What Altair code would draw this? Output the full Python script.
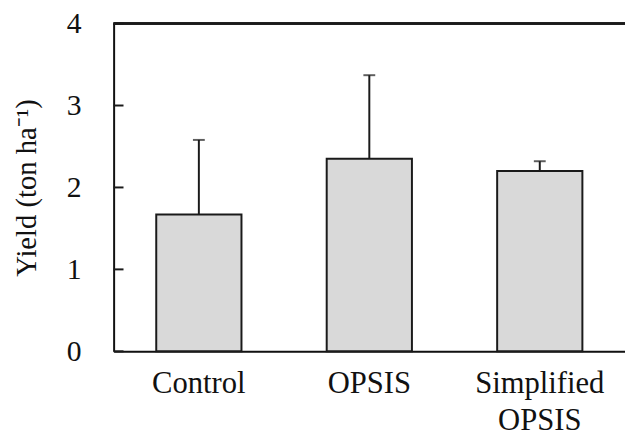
import altair as alt
import pandas as pd

categories = ["Control", "OPSIS", "Simplified OPSIS"]
means = [1.67, 2.35, 2.20]
errors = [0.91, 1.02, 0.12]
y_ticks = [0, 1, 2, 3, 4]

df = pd.DataFrame({"cat": categories, "mean": means, "err": errors})
df["top"] = df["mean"] + df["err"]
ticks_df = pd.DataFrame({"v": y_ticks})

W, H = 518, 332
FONT = "Liberation Serif"

x_enc = alt.X(
    "cat:N",
    sort=categories,
    scale=alt.Scale(paddingInner=0.5, paddingOuter=0.25),
    axis=alt.Axis(
        title=None,
        labelAngle=0,
        ticks=False,
        domain=True,
        domainColor="#111111",
        domainWidth=2,
        labelFont=FONT,
        labelFontSize=31,
        labelColor="#111111",
        labelPadding=18,
        labelLineHeight=37,
        labelExpr="datum.label == 'Simplified OPSIS' ? ['Simplified', 'OPSIS'] : datum.label",
    ),
)
y_scale = alt.Scale(domain=[0, 4], nice=False)
y_axis = alt.Axis(
    title="Yield (ton ha⁻¹)",
    values=y_ticks,
    format="d",
    ticks=False,
    grid=False,
    domain=True,
    domainColor="#111111",
    domainWidth=2,
    labelFont=FONT,
    labelFontSize=30,
    labelColor="#111111",
    labelPadding=33,
    titleFont=FONT,
    titleFontSize=29,
    titleFontWeight="normal",
    titleColor="#111111",
    titleAngle=270,
    titleX=-88,
    titleY=H / 2,
    titleAlign="center",
    titleBaseline="middle",
)

base = alt.Chart(df)

bars = base.mark_bar(fill="#d9d9d9", stroke="#1a1a1a", strokeWidth=2).encode(
    x=x_enc,
    y=alt.Y("mean:Q", scale=y_scale, axis=y_axis),
)
err_rule = base.mark_rule(color="#1a1a1a", strokeWidth=2).encode(
    x=alt.X("cat:N", sort=categories),
    y="mean:Q",
    y2="top:Q",
)
caps = base.mark_tick(color="#1a1a1a", size=12, thickness=2).encode(
    x=alt.X("cat:N", sort=categories),
    y="top:Q",
)
inner_ticks = alt.Chart(ticks_df).mark_rule(color="#1a1a1a", strokeWidth=2).encode(
    y=alt.Y("v:Q"),
    x=alt.value(0),
    x2=alt.value(10),
)
top_line = alt.Chart(ticks_df).mark_rule(color="#1a1a1a", strokeWidth=2).encode(
    y=alt.datum(4),
    x=alt.value(0),
    x2=alt.value(W),
)

chart = alt.layer(bars, err_rule, caps, inner_ticks, top_line).properties(
    width=W,
    height=H,
    autosize=alt.AutoSizeParams(type="none"),
    padding={"left": 107, "top": 13, "right": 0, "bottom": 83},
).configure_view(stroke=None).configure(background="white", font=FONT)

chart.save("out.html", embed_options={"renderer": "svg", "actions": False})
